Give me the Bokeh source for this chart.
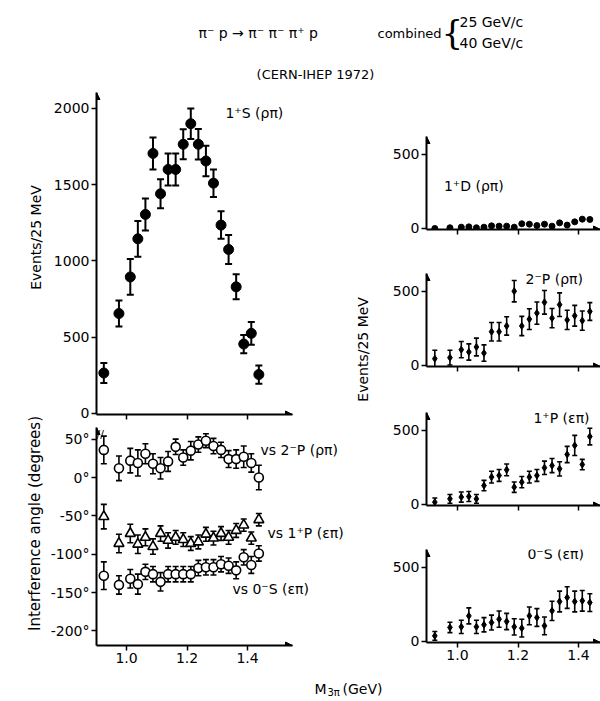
import numpy as np
from bokeh.plotting import figure
from bokeh.models import (ColumnDataSource, Whisker, TeeHead, Range1d, Label,
                          FixedTicker, Arrow, NormalHead)
from bokeh.layouts import row, column
from bokeh.embed import file_html
from bokeh.resources import INLINE

# ---------------- data ----------------
mass = [0.925, 0.975, 1.0125, 1.0375, 1.0625, 1.0875, 1.1125, 1.1375, 1.1625, 1.1875,
        1.2125, 1.2375, 1.2625, 1.2875, 1.3125, 1.3375, 1.3625, 1.3875, 1.4125, 1.4375]

s1p_rhopi = [265, 655, 895, 1145, 1305, 1705, 1440, 1600, 1600, 1765,
             1900, 1765, 1655, 1510, 1235, 1075, 830, 455, 525, 255]
s1p_rhopi_err = [65, 85, 117, 117, 105, 105, 95, 105, 105, 98,
                 100, 100, 100, 90, 90, 95, 82, 60, 75, 60]

ang_vs_2mP = [36, 12, 22, 19, 31, 18, 12, 21, 40, 26, 35, 43, 48, 41, 36, 24, 24, 27, 19, 0]
ang_vs_2mP_err = [18, 16, 16, 17, 13, 13, 14, 13, 10, 10, 12, 10, 9, 10, 10, 11, 12, 14, 12, 16]
ang_vs_1pP = [-51, -86, -73, -87, -78, -90, -73, -82, -78, -81,
              -86, -84, -74, -79, -73, -78, -69, -62, -79, -55]
ang_vs_1pP_err = [16, 12, 12, 12, 11, 10, 10, 10, 9, 9, 9, 9, 9, 9, 9, 9, 9, 8, 8, 8]
ang_vs_0mS = [-128, -140, -132, -139, -123, -126, -136, -126, -126, -126,
              -126, -118, -117, -117, -113, -115, -121, -104, -114, -99]
ang_vs_0mS_err = [18, 12, 12, 13, 10, 10, 12, 10, 10, 10, 10, 10, 10, 10, 10, 10, 11, 10, 11, 10]

d1p_rhopi = [0, 5, 9, 11, 5, 9, 18, 16, 16, 9, 32, 29, 20, 29, 16, 38, 23, 45, 63, 61]

p2m_rhopi = [46, 53, 107, 91, 125, 84, 228, 228, 267, 502,
             267, 313, 354, 427, 320, 411, 308, 336, 303, 365]
p2m_rhopi_err = [57, 50, 55, 55, 60, 55, 62, 62, 62, 72,
                 65, 70, 75, 80, 65, 80, 65, 70, 65, 60]

p1p_epspi = [16, 38, 50, 54, 38, 128, 185, 196, 234, 117,
             151, 185, 196, 248, 263, 241, 338, 399, 270, 459]
p1p_epspi_err = [28, 30, 34, 34, 30, 35, 40, 40, 40, 35,
                 38, 40, 40, 45, 48, 48, 55, 68, 35, 56]

s0m_epspi = [38, 95, 99, 173, 99, 113, 128, 151, 135, 99,
             90, 173, 162, 106, 207, 270, 297, 270, 275, 263]
s0m_epspi_err = [30, 35, 45, 54, 45, 48, 50, 55, 55, 55,
                 60, 60, 60, 60, 65, 70, 73, 70, 70, 60]

mass_ticks = [1.0, 1.2, 1.4]
mass_tick_labels = ["1.0", "1.2", "1.4"]
events_ticks_left = [0, 500, 1000, 1500, 2000]
events_ticks_right = [0, 500]
angle_ticks = [50, 0, -50, -100, -150, -200]
angle_tick_labels = ["50°", "0°", "-50°", "-100°", "-150°", "-200°"]

# ---------------- styling ----------------
FONT = "DejaVu Sans"
TICK_FS = "14px"

x_left_axis = (0.9008, 0.9008 + 196 / 302.5)      # drawn extent of the left x axes
x_left = (0.9008, 0.9008 + 280 / 302.5)           # frame extent (room for labels)
x_right = (0.8975, 0.8975 + 174 / 302.5)
y_tl = (-7.0, -7.0 + 322 / 0.1525)
y_bl = (-219.0, 65.2)
y_r = (-6.8, -6.8 + 93 / 0.148)


def make_fig(w, h, xr, yr, mbl, mbr, mbt, mbb, xaxis_extent=None):
    p = figure(width=w, height=h, x_range=Range1d(*xr), y_range=Range1d(*yr),
               output_backend="svg", toolbar_location=None,
               min_border_left=mbl, min_border_right=mbr,
               min_border_top=mbt, min_border_bottom=mbb)
    p.outline_line_color = None
    p.grid.visible = False
    p.background_fill_color = "white"
    p.border_fill_color = "white"
    for ax in p.axis:
        ax.axis_line_width = 2
        ax.axis_line_color = "black"
        ax.major_tick_line_width = 1.5
        ax.major_tick_line_color = "black"
        ax.major_tick_out = 5
        ax.major_tick_in = 0
        ax.minor_tick_out = 0
        ax.minor_tick_in = 0
        ax.major_label_text_font = FONT
        ax.major_label_text_font_size = TICK_FS
        ax.major_label_text_color = "black"
        ax.major_label_standoff = 2
    p.xaxis.ticker = FixedTicker(ticks=mass_ticks)
    p.xaxis.major_label_overrides = dict(zip(mass_ticks, mass_tick_labels))
    xend = xr[1]
    if xaxis_extent is not None:
        p.xaxis.bounds = xaxis_extent
        xend = xaxis_extent[1]
    # axis arrows
    head = dict(size=7, fill_color="black", line_color="black", line_width=1)
    p.add_layout(Arrow(end=NormalHead(**head), x_start=xr[0], x_end=xr[0],
                       y_start=yr[1] - 0.05 * (yr[1] - yr[0]), y_end=yr[1], line_alpha=0))
    p.add_layout(Arrow(end=NormalHead(**head), y_start=yr[0], y_end=yr[0],
                       x_start=xend - 0.05, x_end=xend, line_alpha=0))
    return p


def hide_xlabels(p):
    p.xaxis.major_label_overrides = {t: "" for t in mass_ticks}


def errbars(p, x, y, e, lw=1.6, cap=6):
    lo = list(np.array(y) - np.array(e))
    hi = list(np.array(y) + np.array(e))
    src = ColumnDataSource(dict(x=x, lo=lo, hi=hi))
    w = Whisker(source=src, base="x", lower="lo", upper="hi",
                line_width=lw, line_color="black",
                upper_head=TeeHead(size=cap, line_width=lw, line_color="black"),
                lower_head=TeeHead(size=cap, line_width=lw, line_color="black"))
    w.level = "underlay"
    p.add_layout(w)


def lab(p, x, y, text, size="14px", align="left", angle=0.0, font=FONT):
    p.add_layout(Label(x=x, y=y, text=text, text_font=font, text_font_size=size,
                       text_align=align, text_baseline="middle", angle=angle,
                       text_color="black"))


# ---------------- top-left: 1+S (rho pi) ----------------
tl = make_fig(330, 338, x_left, y_tl, 50, 0, 4, 12, xaxis_extent=x_left_axis)
hide_xlabels(tl)
tl.yaxis.ticker = FixedTicker(ticks=events_ticks_left)
errbars(tl, mass, s1p_rhopi, s1p_rhopi_err, lw=2, cap=7)
tl.scatter(mass, s1p_rhopi, marker="circle", size=10, fill_color="black", line_color="black")
lab(tl, 1.327, 1967, "1⁺S (ρπ)")
# shared y label of the right column
lab(tl, 1.783, 420, "Events/25 MeV", size="14px", align="center", angle=np.pi / 2)

# ---------------- bottom-left: interference angles ----------------
bl = make_fig(330, 245, x_left, y_bl, 50, 0, 1, 26, xaxis_extent=x_left_axis)
bl.yaxis.ticker = FixedTicker(ticks=angle_ticks)
bl.yaxis.major_label_overrides = dict(zip(angle_ticks, angle_tick_labels))
errbars(bl, mass, ang_vs_2mP, ang_vs_2mP_err)
errbars(bl, mass, ang_vs_1pP, ang_vs_1pP_err)
errbars(bl, mass, ang_vs_0mS, ang_vs_0mS_err)
bl.scatter(mass, ang_vs_2mP, marker="circle", size=9, fill_color="white", line_color="black", line_width=1.6)
bl.scatter(mass, ang_vs_1pP, marker="triangle", size=10, fill_color="white", line_color="black", line_width=1.6)
bl.scatter(mass, ang_vs_0mS, marker="circle", size=9, fill_color="white", line_color="black", line_width=1.6)
lab(bl, 1.443, 36, "vs 2⁻P (ρπ)")
lab(bl, 1.466, -72, "vs 1⁺P (επ)")
lab(bl, 1.350, -145, "vs 0⁻S (επ)")
lab(bl, x_left[0] + 0.012, 56, "//", size="11px", align="center")

# ---------------- right column ----------------
r1 = make_fig(224, 153, x_right, y_r, 50, 0, 48, 12)
r2 = make_fig(224, 137, x_right, y_r, 50, 0, 32, 12)
r3 = make_fig(224, 139, x_right, y_r, 50, 0, 34, 12)
r4 = make_fig(224, 154, x_right, y_r, 50, 0, 32, 29)
for p in (r1, r2, r3, r4):
    p.yaxis.ticker = FixedTicker(ticks=events_ticks_right)
for p in (r1, r2, r3):
    hide_xlabels(p)

r1.scatter(mass, d1p_rhopi, marker="circle", size=6, fill_color="black", line_color="black")
lab(r1, 0.955, 290, "1⁺D (ρπ)")

errbars(r2, mass, p2m_rhopi, p2m_rhopi_err, lw=1.6, cap=5)
r2.scatter(mass, p2m_rhopi, marker="diamond", size=7, fill_color="black", line_color="black")
lab(r2, 1.225, 585, "2⁻P (ρπ)")

errbars(r3, mass, p1p_epspi, p1p_epspi_err, lw=1.6, cap=5)
r3.scatter(mass, p1p_epspi, marker="diamond", size=7, fill_color="black", line_color="black")
lab(r3, 1.251, 582, "1⁺P (επ)")

errbars(r4, mass, s0m_epspi, s0m_epspi_err, lw=1.6, cap=5)
r4.scatter(mass, s0m_epspi, marker="diamond", size=7, fill_color="black", line_color="black")
lab(r4, 1.231, 588, "0⁻S (επ)")


# ---------------- text-only figures ----------------
def text_fig(w, h, y_top, y_bot):
    p = figure(width=w, height=h, x_range=Range1d(0, w), y_range=Range1d(y_bot, y_top),
               output_backend="svg", toolbar_location=None,
               min_border_left=0, min_border_right=0, min_border_top=0, min_border_bottom=0)
    p.axis.visible = False
    p.grid.visible = False
    p.outline_line_color = None
    p.background_fill_color = "white"
    p.border_fill_color = "white"
    return p


header = text_fig(600, 88, 0, 88)
lab(header, 198, 32, "π⁻ p → π⁻ π⁻ π⁺ p", size="14px")
lab(header, 377, 33, "combined", size="13px")
lab(header, 441, 31, "{", size="34px", font="DejaVu Serif")
lab(header, 459, 21, "25 GeV/c", size="14px")
lab(header, 459, 42, "40 GeV/c", size="14px")
lab(header, 315, 74, "(CERN-IHEP 1972)", size="13px", align="center")

strip = text_fig(46, 583, 88, 671)
lab(strip, 35, 237, "Events/25 MeV", size="14px", align="center", angle=np.pi / 2)
lab(strip, 34, 523, "Interference angle (degrees)", size="15px", align="center", angle=np.pi / 2)

footer = text_fig(600, 30, 671, 701)
lab(footer, 314, 688, "M", size="14px")
lab(footer, 327, 692, "3π", size="10px")
lab(footer, 342, 688, "(GeV)", size="14px")

layout = column(header,
                row(strip, column(tl, bl), column(r1, r2, r3, r4)),
                footer)

open("out.html", "w").write(file_html(layout, INLINE))
